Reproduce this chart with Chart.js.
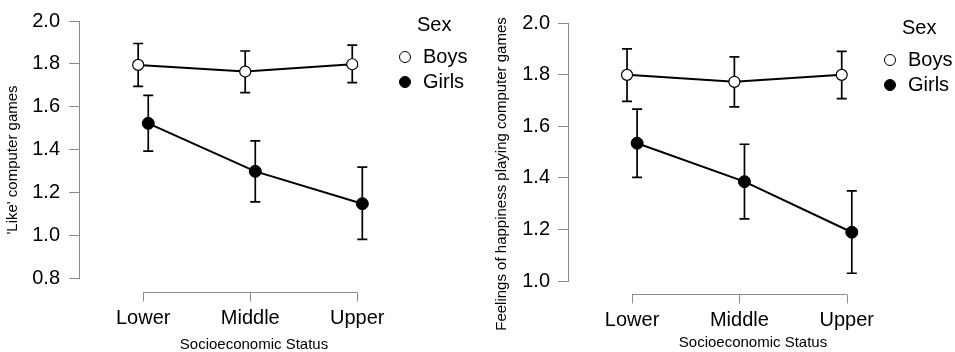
<!DOCTYPE html>
<html>
<head>
<meta charset="utf-8">
<script src="https://cdn.jsdelivr.net/npm/chart.js@4.4.0/dist/chart.umd.min.js"></script>
<style>
  body { margin: 0; background: #fff; }
  .wrap { display: flex; width: 955px; height: 352px; }
  .panel { position: relative; height: 352px; }
</style>
</head>
<body>
<div class="wrap">
  <div class="panel" style="width:478px"><canvas id="like"></canvas></div>
  <div class="panel" style="width:477px"><canvas id="happy"></canvas></div>
</div>
<script>
const sesLabels = ['Lower', 'Middle', 'Upper'];
const sexLabels = ['Boys', 'Girls'];
const legendTitle = 'Sex';
const xTitle = 'Socioeconomic Status';

const likeTicks = [0.8, 1.0, 1.2, 1.4, 1.6, 1.8, 2.0];
const likeBoys = [1.795, 1.764, 1.798];
const likeBoysLow = [1.695, 1.666, 1.712];
const likeBoysHigh = [1.895, 1.860, 1.887];
const likeGirls = [1.522, 1.298, 1.147];
const likeGirlsLow = [1.392, 1.155, 0.980];
const likeGirlsHigh = [1.653, 1.440, 1.318];

const happyTicks = [1.0, 1.2, 1.4, 1.6, 1.8, 2.0];
const happyBoys = [1.799, 1.772, 1.799];
const happyBoysLow = [1.696, 1.675, 1.707];
const happyBoysHigh = [1.900, 1.869, 1.890];
const happyGirls = [1.534, 1.385, 1.189];
const happyGirlsLow = [1.402, 1.241, 1.030];
const happyGirlsHigh = [1.666, 1.530, 1.349];

const dodge = 0.047;
const axisGrey = '#8a8a8a';
const ink = '#000';
const FONT = "'Liberation Sans', Arial, sans-serif";

function points(vals, lo, hi, shift) {
  return vals.map((v, i) => ({x: i + 1 + shift, y: v, lo: lo[i], hi: hi[i]}));
}

// error bars, drawn under the points
const errorBars = {
  id: 'errorBars',
  beforeDatasetsDraw(chart) {
    const ctx = chart.ctx, xs = chart.scales.x, ys = chart.scales.y;
    ctx.save();
    ctx.strokeStyle = ink;
    ctx.lineWidth = 1.7;
    chart.data.datasets.forEach(ds => {
      ds.data.forEach(p => {
        const x = xs.getPixelForValue(p.x);
        const y1 = ys.getPixelForValue(p.lo), y2 = ys.getPixelForValue(p.hi);
        ctx.beginPath();
        ctx.moveTo(x, y1); ctx.lineTo(x, y2);
        ctx.moveTo(x - 5, y1); ctx.lineTo(x + 5, y1);
        ctx.moveTo(x - 5, y2); ctx.lineTo(x + 5, y2);
        ctx.stroke();
      });
    });
    ctx.restore();
  }
};

// jasp style bracket x axis, rotated y title and legend
const decor = {
  id: 'decor',
  afterDraw(chart, args, o) {
    const ctx = chart.ctx, xs = chart.scales.x, area = chart.chartArea;
    ctx.save();
    // x bracket
    const yb = Math.round(area.bottom + o.gap) + 0.5;
    ctx.strokeStyle = axisGrey;
    ctx.lineWidth = 1;
    ctx.beginPath();
    ctx.moveTo(xs.getPixelForValue(1), yb);
    ctx.lineTo(xs.getPixelForValue(sesLabels.length), yb);
    sesLabels.forEach((s, i) => {
      const x = Math.round(xs.getPixelForValue(i + 1)) + 0.5;
      ctx.moveTo(x, yb); ctx.lineTo(x, yb + 9);
    });
    ctx.stroke();
    // y title
    ctx.fillStyle = ink;
    ctx.font = '15px ' + FONT;
    ctx.textAlign = 'center';
    ctx.textBaseline = 'middle';
    ctx.translate(o.yTitleX, o.yTitleY);
    ctx.rotate(-Math.PI / 2);
    ctx.fillText(o.yTitle, 0, 0);
    ctx.setTransform(1, 0, 0, 1, 0, 0);
    // legend
    ctx.font = '20px ' + FONT;
    ctx.textAlign = 'left';
    ctx.fillText(legendTitle, o.legX + 12, o.legY);
    chart.data.datasets.forEach((ds, i) => {
      const y = o.legY + 32 + i * 25;
      ctx.beginPath();
      ctx.arc(o.legX, y, 5.5, 0, Math.PI * 2);
      ctx.fillStyle = ds.pointBackgroundColor;
      ctx.fill();
      ctx.strokeStyle = ds.pointBorderColor;
      ctx.lineWidth = 1;
      ctx.stroke();
      ctx.fillStyle = ink;
      ctx.fillText(ds.label, o.legX + 18, y);
    });
    ctx.restore();
  }
};

function makeChart(id, p) {
  const datasets = [
    {label: sexLabels[0], data: points(p.boys, p.boysLow, p.boysHigh, -dodge),
     pointBackgroundColor: '#fff', pointBorderColor: ink, pointRadius: 5.5, pointBorderWidth: 1.2},
    {label: sexLabels[1], data: points(p.girls, p.girlsLow, p.girlsHigh, dodge),
     pointBackgroundColor: ink, pointBorderColor: ink, pointRadius: 6, pointBorderWidth: 1}
  ].map(d => Object.assign(d, {
    borderColor: ink, borderWidth: 2, tension: 0,
    pointHoverRadius: d.pointRadius, clip: false
  }));

  return new Chart(document.getElementById(id), {
    type: 'line',
    data: {datasets},
    plugins: [errorBars, decor],
    options: {
      responsive: true,
      maintainAspectRatio: false,
      animation: false,
      layout: {padding: {top: p.top, right: p.right, left: 0, bottom: 0}},
      scales: {
        x: {
          type: 'linear',
          min: p.xMin, max: p.xMax,
          afterBuildTicks: s => { s.ticks = sesLabels.map((c, i) => ({value: i + 1})); },
          afterFit: s => { s.height = p.xHeight; },
          grid: {display: false, drawTicks: false},
          border: {display: false},
          ticks: {
            padding: p.xPad, color: ink, font: {size: 20, family: FONT},
            maxRotation: 0, autoSkip: false,
            callback: v => sesLabels[Math.round(v) - 1]
          },
          title: {
            display: true, text: xTitle, color: ink,
            font: {size: 15, family: FONT, lineHeight: 1},
            padding: {top: 0, bottom: p.xTitlePad}
          }
        },
        y: {
          min: p.yTicks[0], max: p.yTicks[p.yTicks.length - 1],
          afterBuildTicks: s => { s.ticks = p.yTicks.map(v => ({value: v})); },
          afterFit: s => { s.width = p.yWidth; },
          grid: {drawOnChartArea: false, drawTicks: true, tickLength: 10, color: axisGrey, lineWidth: 1},
          border: {display: true, color: axisGrey, width: 1},
          ticks: {
            padding: p.yPad, color: ink, font: {size: 20, family: FONT},
            callback: v => v.toFixed(1)
          }
        }
      },
      plugins: {
        legend: {display: false},
        tooltip: {enabled: false},
        decor: {
          gap: p.gap, yTitle: p.yTitle, yTitleX: p.yTitleX, yTitleY: p.yTitleY,
          legX: p.legX, legY: p.legY
        }
      }
    }
  });
}

makeChart('like', {
  boys: likeBoys, boysLow: likeBoysLow, boysHigh: likeBoysHigh,
  girls: likeGirls, girlsLow: likeGirlsLow, girlsHigh: likeGirlsHigh,
  yTicks: likeTicks, yTitle: "'Like' computer games",
  top: 20, right: 49, xMin: 0.40, xMax: 3.67, xHeight: 74, xPad: 28, xTitlePad: 0,
  yWidth: 79, yPad: 9, gap: 14, yTitleX: 13, yTitleY: 160, legX: 405, legY: 25
});

makeChart('happy', {
  boys: happyBoys, boysLow: happyBoysLow, boysHigh: happyBoysHigh,
  girls: happyGirls, girlsLow: happyGirlsLow, girlsHigh: happyGirlsHigh,
  yTicks: happyTicks, yTitle: 'Feelings of happiness playing computer games',
  top: 23, right: 17, xMin: 0.403, xMax: 3.85, xHeight: 71, xPad: 27, xTitlePad: 1.5,
  yWidth: 90, yPad: 8, gap: 13, yTitleX: 24, yTitleY: 174, legX: 412, legY: 28
});
</script>
</body>
</html>
